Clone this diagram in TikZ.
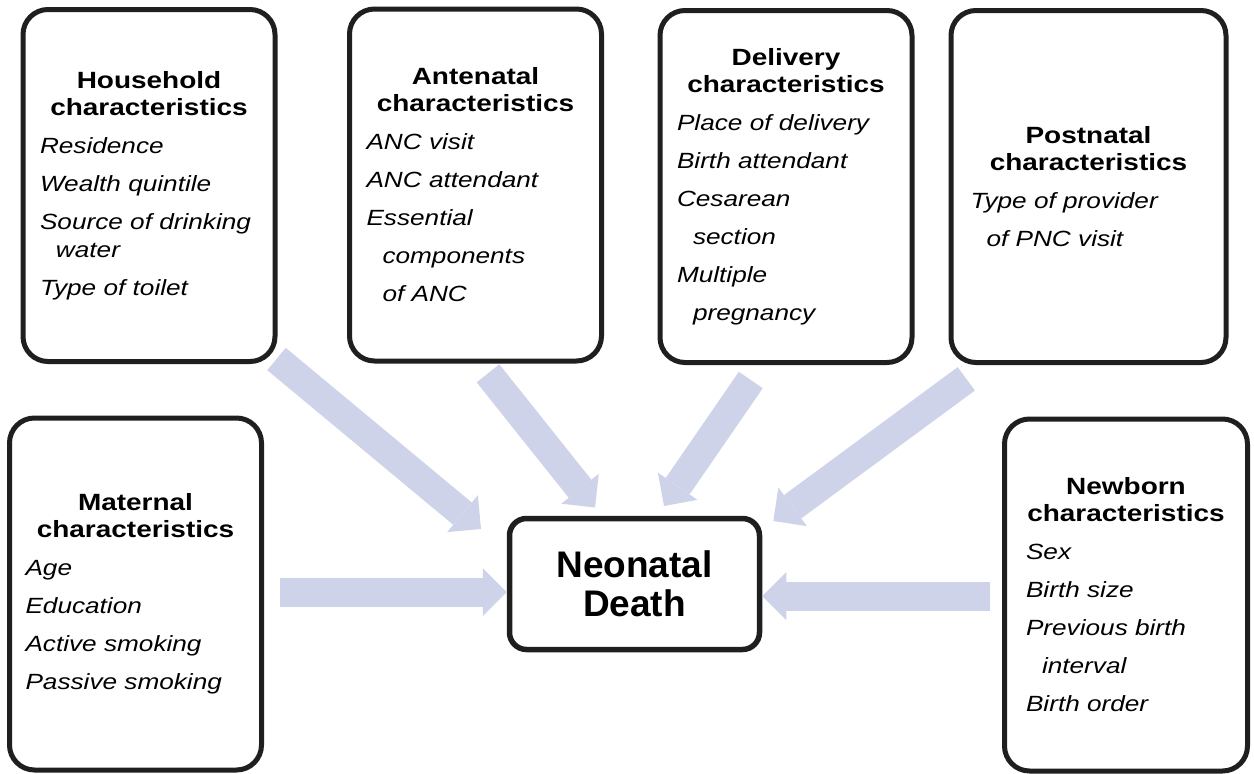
\documentclass[tikz,border=0pt]{standalone}
\usepackage{fontspec}
\setmainfont{Liberation Sans}
\newfontfamily\boxfont{Liberation Sans}[FakeStretch=1.19]
\usetikzlibrary{arrows.meta}
\definecolor{flowblue}{RGB}{206,211,233}
\newcommand{\ftitle}[1]{{\centering\bfseries\fontsize{23.5}{27}\selectfont #1\par}}
\newcommand{\fitems}[1]{{\raggedright\itshape\fontsize{22}{38}\selectfont
	\spaceskip=7.3pt plus 1pt minus 1pt #1\par}}
\newcommand{\ind}{\hspace*{16pt}}

\tikzset{
	factor/.style={draw=black!88, line width=5pt, rounded corners=25pt,
		minimum width=252pt, minimum height=352pt, inner sep=0pt,
		text width=218pt, font=\boxfont},
	outcome/.style={draw=black!88, line width=5.5pt, rounded corners=17pt,
		minimum width=250pt, minimum height=131pt, align=center,
		font=\bfseries\fontsize{37}{39}\selectfont},
	flow/.style={draw=flowblue, line width=29pt,
		-{Triangle[width=48pt,length=24pt,line width=0pt]}}
}

\begin{document}
\begin{tikzpicture}[x=1pt,y=-1pt]
	\useasboundingbox (0,0) rectangle (1254,774);
	\node [ factor ] (house) at (149,185.5)
		{ \ftitle{Household\\characteristics}
			\fitems{Residence\\Wealth quintile\\Source of drinking\\[-10pt]
				\ind water\\Type of toilet} };
	\node [ factor ] (ante) at (475.5,185)
		{ \ftitle{Antenatal\\characteristics}
			\fitems{ANC visit\\ANC attendant\\Essential\\
				\ind components\\\ind of ANC} };
	\node [ factor ] (deliv) at (786,186.5)
		{ \ftitle{Delivery\\characteristics}
			\fitems{Place of delivery\\Birth attendant\\Cesarean\\
				\ind section\\Multiple\\\ind pregnancy} };
	\node [ factor, minimum width=275pt, text width=236pt ] (post) at (1088.5,186.5)
		{ \ftitle{Postnatal\\characteristics}
			\fitems{Type of provider\\\ind of PNC visit} };
	\node [ factor, text width=220pt ] (mat) at (135.5,594)
		{ \ftitle{Maternal\\characteristics}
			\fitems{Age\\Education\\Active smoking\\Passive smoking} };
	\node [ factor, minimum width=243pt, text width=200pt ] (newb) at (1126,595)
		{ \ftitle{Newborn\\characteristics}
			\fitems{Sex\\Birth size\\Previous birth\\
				\ind interval\\Birth order} };
	\node [ outcome ] (death) at (634.5,584)
		{ Neonatal\\Death };

	\coordinate (housefrom) at (276.5,359);
	\coordinate (houseto) at (481,529);
	\coordinate (antefrom) at (488,373.3);
	\coordinate (anteto) at (595,507.5);
	\coordinate (delivfrom) at (750.8,380);
	\coordinate (delivto) at (664,506);
	\coordinate (postfrom) at (966.3,378.8);
	\coordinate (postto) at (773.3,521);
	\coordinate (matfrom) at (280,592);
	\coordinate (newbfrom) at (990,596);

	\draw [ flow ] (housefrom) to (houseto);
	\draw [ flow ] (antefrom) to (anteto);
	\draw [ flow ] (delivfrom) to (delivto);
	\draw [ flow ] (postfrom) to (postto);
	\draw [ flow ] (matfrom) to (death.west |- matfrom);
	\draw [ flow ] (newbfrom) to (death.east |- newbfrom);
\end{tikzpicture}
\end{document}
